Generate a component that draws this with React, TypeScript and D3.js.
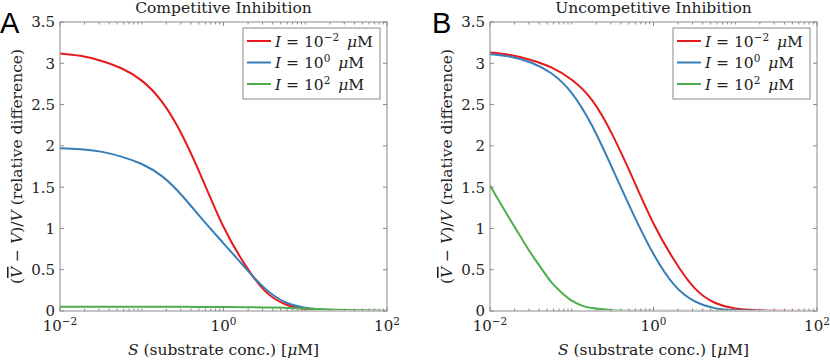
import React from 'react';
import * as d3 from 'd3';

// substrate concentrations (uM) where curves were read
const sGrid = [0.01, 0.0178, 0.0316, 0.0562, 0.1, 0.178, 0.316, 0.562, 1, 1.78, 3.16, 5.62, 10, 17.8, 31.6, 100];
const sGreenB = [0.01, 0.0133, 0.0178, 0.0237, 0.0316, 0.0422, 0.0562, 0.075, 0.1, 0.133, 0.178, 0.316, 1, 100];

// competitive inhibition
const redA = [3.12, 3.09, 3.03, 2.94, 2.79, 2.53, 2.12, 1.58, 1.02, 0.58, 0.25, 0.085, 0.025, 0.007, 0.002, 0];
const blueA = [1.97, 1.96, 1.93, 1.87, 1.78, 1.63, 1.39, 1.1, 0.82, 0.54, 0.28, 0.11, 0.04, 0.012, 0.004, 0];
const greenA = [0.052, 0.052, 0.052, 0.051, 0.051, 0.05, 0.05, 0.049, 0.048, 0.046, 0.043, 0.038, 0.03, 0.02, 0.011, 0.003];

// uncompetitive inhibition
const redB = [3.13, 3.1, 3.04, 2.95, 2.8, 2.55, 2.13, 1.6, 1.06, 0.62, 0.28, 0.1, 0.03, 0.01, 0.003, 0];
const blueB = [3.11, 3.08, 3.01, 2.88, 2.64, 2.24, 1.72, 1.18, 0.69, 0.32, 0.12, 0.035, 0.01, 0.003, 0.001, 0];
const greenB = [1.52, 1.31, 1.1, 0.9, 0.7, 0.52, 0.35, 0.225, 0.125, 0.065, 0.035, 0.01, 0.002, 0];

const yTicks = [0, 0.5, 1, 1.5, 2, 2.5, 3, 3.5];
const xLabelTicks = [0.01, 1, 100];
const legendExps = ['\u22122', '0', '2'];
const colors = ['#e41a1c', '#377eb8', '#4daf4a'];

const serif = '"DejaVu Serif", "Liberation Serif", serif';
const axisGray = '#8a8a8a';

type Series = { s: number[]; v: number[] };

const Panel = ({ id, left, letter, title, series }: { id: string; left: number; letter: string; title: string; series: Series[] }) => {
  const top = 22;
  const w = 327;
  const h = 289;
  const x = d3.scaleLog().domain([0.01, 100]).range([0, w]);
  const y = d3.scaleLinear().domain([0, 3.5]).range([h, 0]);
  const line = d3.line<[number, number]>()
    .x(d => x(d[0]))
    .y(d => y(d[1]))
    .curve(d3.curveNatural);
  const minor = x.ticks().filter(t => !xLabelTicks.includes(t));

  return (
    <g transform={`translate(${left},${top})`}>
      <defs>
        <clipPath id={`clip-${id}`}>
          <rect x={0} y={-2} width={w} height={h + 1} />
        </clipPath>
      </defs>
      <text x={left === 60 ? -60 : -58} y={11} fontFamily='"Liberation Sans", Arial, sans-serif' fontSize={29}>{letter}</text>
      <text x={w / 2} y={-9} textAnchor="middle" fontFamily={serif} fontSize={15.5} fill="#222">{title}</text>

      {/* curves */}
      <g clipPath={`url(#clip-${id})`}>
        {series.map((sr, i) => (
          <path key={i} d={line(sr.s.map((s, j) => [s, sr.v[j]]) as [number, number][]) || ''}
            fill="none" stroke={colors[i]} strokeWidth={2} strokeLinejoin="round" />
        ))}
      </g>

      {/* box */}
      <rect x={0} y={0} width={w} height={h} fill="none" stroke={axisGray} strokeWidth={1} />

      {/* y ticks */}
      {yTicks.map(t => (
        <g key={t}>
          <line x1={0} x2={4} y1={y(t)} y2={y(t)} stroke={axisGray} />
          <line x1={w - 4} x2={w} y1={y(t)} y2={y(t)} stroke={axisGray} />
          <text x={-5} y={y(t)} dy="0.36em" textAnchor="end" fontFamily={serif} fontSize={15} fill="#222">{t}</text>
        </g>
      ))}

      {/* x ticks */}
      {minor.map(t => (
        <g key={t}>
          <line x1={x(t)} x2={x(t)} y1={h} y2={h - 2.5} stroke={axisGray} />
          <line x1={x(t)} x2={x(t)} y1={0} y2={2.5} stroke={axisGray} />
        </g>
      ))}
      {xLabelTicks.map((t, i) => (
        <g key={t}>
          <line x1={x(t)} x2={x(t)} y1={h} y2={h - 4} stroke={axisGray} />
          <line x1={x(t)} x2={x(t)} y1={0} y2={4} stroke={axisGray} />
          <text x={x(t)} y={h + 20} textAnchor="middle" fontFamily={serif} fontSize={15} fill="#222">
            10<tspan dy={-6} fontSize={10.5}>{legendExps[i]}</tspan>
          </text>
        </g>
      ))}

      {/* axis labels */}
      <text x={w / 2} y={h + 44} textAnchor="middle" fontFamily={serif} fontSize={15.5} fill="#222">
        <tspan fontStyle="italic">S</tspan> (substrate conc.) [<tspan fontStyle="italic">{'\u03bc'}</tspan>M]
      </text>
      <text transform={`translate(${-38},${h / 2}) rotate(-90)`} textAnchor="middle" fontFamily={serif} fontSize={15.5} fill="#222">
        (<tspan fontStyle="italic" style={{ textDecoration: 'overline' }}>V</tspan> {'\u2212'} <tspan fontStyle="italic">V</tspan>)/<tspan fontStyle="italic">V</tspan> (relative difference)
      </text>

      {/* legend */}
      <g transform={`translate(${w - 144},6)`}>
        <rect x={0} y={0} width={137} height={71} fill="#fff" stroke={axisGray} />
        {legendExps.map((e, i) => (
          <g key={i} transform={`translate(0,${13 + i * 21.5})`}>
            <line x1={4} x2={28} y1={0} y2={0} stroke={colors[i]} strokeWidth={2} />
            <text x={32} y={0} dy="0.36em" fontFamily={serif} fontSize={15.5} fill="#222">
              <tspan fontStyle="italic">I</tspan> = 10<tspan dy={-6} fontSize={10.5}>{e}</tspan><tspan dy={6}>{'\u2002'}</tspan><tspan fontStyle="italic">{'\u03bc'}</tspan>M
            </text>
          </g>
        ))}
      </g>
    </g>
  );
};

export default function App() {
  const seriesA: Series[] = [
    { s: sGrid, v: redA },
    { s: sGrid, v: blueA },
    { s: sGrid, v: greenA },
  ];
  const seriesB: Series[] = [
    { s: sGrid, v: redB },
    { s: sGrid, v: blueB },
    { s: sGreenB, v: greenB },
  ];
  return (
    <svg width={830} height={360} style={{ position: 'absolute', left: 0, top: 0, background: '#fff' }}>
      <Panel id="a" left={60} letter="A" title="Competitive Inhibition" series={seriesA} />
      <Panel id="b" left={490} letter="B" title="Uncompetitive Inhibition" series={seriesB} />
    </svg>
  );
}
